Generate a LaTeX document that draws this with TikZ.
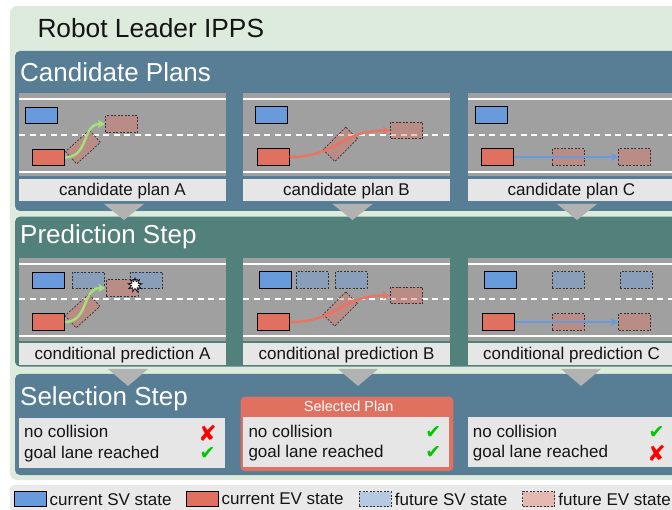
\documentclass[tikz,border=0pt]{standalone}
\usepackage{fontspec}
\setmainfont{Liberation Sans}
\newfontfamily\symfont{DejaVu Sans}
\usepackage{tikz}
\usetikzlibrary{arrows.meta}
\usetikzlibrary{positioning}
\usetikzlibrary{shapes.geometric}

\definecolor{bggreen}{RGB}{221,235,221}
\definecolor{bandblue}{RGB}{87,126,149}
\definecolor{bandteal}{RGB}{82,128,122}
\definecolor{roadgray}{RGB}{160,160,160}
\definecolor{boxgray}{RGB}{230,230,230}
\definecolor{legendgray}{RGB}{233,233,233}
\definecolor{flowgray}{RGB}{178,178,178}
\definecolor{svblue}{RGB}{104,155,220}
\definecolor{evred}{RGB}{224,112,96}
\definecolor{pathred}{RGB}{236,114,98}
\definecolor{pathgreen}{RGB}{166,224,122}
\definecolor{okgreen}{RGB}{0,200,0}
\definecolor{badred}{RGB}{255,0,0}
\definecolor{ink}{RGB}{20,20,20}

\tikzset{car/.style = {inner sep = 0, minimum width = 32, minimum height = 16.5}}
\tikzset{sv/.style = {car, draw, line width = 1, fill = svblue}}
\tikzset{ev/.style = {car, draw, line width = 1, fill = evred}}
\tikzset{futsv/.style = {car, draw = black!80, line width = 0.7, dash pattern = on 2pt off 1.5pt, fill = svblue, fill opacity = 0.4}}
\tikzset{futev/.style = {car, draw = black!80, line width = 0.7, dash pattern = on 2pt off 1.5pt, fill = evred, fill opacity = 0.4}}
\tikzset{burst/.style = {star, star points = 9, star point ratio = 2, draw, fill = white, line width = 0.7, inner sep = 0, minimum size = 14}}
\tikzset{road/.style = {fill = roadgray}}
\tikzset{lane/.style = {white, line width = 2}}
\tikzset{midlane/.style = {lane, dash pattern = on 6pt off 4.5pt}}
\tikzset{caption/.style = {fill = boxgray, text = ink, inner sep = 0, minimum width = 207, minimum height = 22, text height = 12, text depth = 0, font = \fontsize{17}{20}\selectfont}}
\tikzset{banner/.style = {anchor = base west, inner sep = 0, text = ink, font = \fontsize{26.3}{30}\selectfont}}
\tikzset{head/.style = {anchor = base west, inner sep = 0, text = white, font = \fontsize{26}{30}\selectfont}}
\tikzset{crit/.style = {anchor = base west, inner sep = 0, text = ink, font = \fontsize{17}{20}\selectfont}}
\tikzset{okmark/.style = {inner sep = 0, text = okgreen, font = \symfont\fontsize{19}{20}\selectfont}}
\tikzset{nomark/.style = {inner sep = 0, text = badred, font = \symfont\fontsize{22}{24}\selectfont}}
\tikzset{keytext/.style = {inner sep = 0, text = ink, font = \fontsize{17}{20}\selectfont}}
\tikzset{flow/.style = {fill = flowgray}}
\tikzset{greenpath/.style = {pathgreen, line width = 2.4, -{Stealth[length = 7pt, width = 7.5pt, inset = 1pt]}}}
\tikzset{redpath/.style = {pathred, line width = 2.4, -{Stealth[length = 7pt, width = 7.5pt, inset = 1pt]}}}
\tikzset{bluepath/.style = {svblue, line width = 2.4, -{Stealth[length = 7pt, width = 7.5pt, inset = 1pt]}}}

\begin{document}
\begin{tikzpicture}[x = 1pt, y = -1pt]
    \clip (0, 0) rectangle (672, 510);
    \fill [bggreen, rounded corners = 7] (10, 6) rectangle (720, 480);
    \fill [legendgray, rounded corners = 4] (10, 485) rectangle (720, 530);
    \fill [bandblue, rounded corners = 5] (15, 51) rectangle (715, 211);
    \fill [bandteal, rounded corners = 5] (15, 216.7) rectangle (715, 366.7);
    \fill [bandblue, rounded corners = 5] (15, 374) rectangle (715, 475);

    \node [banner] (ipps) at (37.3, 37.3) {Robot Leader IPPS};
    \node [head] (candhead) at (20, 81.7) {Candidate Plans};
    \node [head] (predhead) at (20, 243.3) {Prediction Step};
    \node [head] (selhead) at (20, 406) {Selection Step};

    \fill [flow] (104, 204) -- (144, 204) -- (124, 220) -- cycle;
    \fill [flow] (332.5, 204) -- (372.5, 204) -- (352.5, 220) -- cycle;
    \fill [flow] (557, 204) -- (597, 204) -- (577, 220) -- cycle;
    \fill [flow] (108, 369) -- (148, 369) -- (128, 386) -- cycle;
    \fill [flow] (338, 369) -- (378, 369) -- (358, 386) -- cycle;
    \fill [flow] (561, 369) -- (601, 369) -- (581, 386) -- cycle;

    \begin{scope}[shift={(19, 93)}]
      \fill [road] (0, 0) rectangle (207, 83);
      \draw [lane] (0, 6.3) -- (207, 6.3);
      \draw [midlane] (0, 42) -- (207, 42);
      \draw [lane] (0, 78.7) -- (207, 78.7);
      \node [caption] (ca-cap) at (103.5, 97) {candidate plan A};
      \node [sv] (ca-sv) at (22, 22.5) {};
      \node [ev] (ca-ev) at (29.5, 64.5) {};
      \node [futev, rotate = 42] (ca-mid) at (64, 54) {};
      \node [futev] (ca-end) at (102.5, 31) {};
      \draw [greenpath] (ca-ev.east) .. controls (70, 64.5) and (63, 31) .. (ca-end.west);
    \end{scope}

    \begin{scope}[shift={(243, 93)}]
      \fill [road] (0, 0) rectangle (207, 83);
      \draw [lane] (0, 6.3) -- (207, 6.3);
      \draw [midlane] (0, 42) -- (207, 42);
      \draw [lane] (0, 78.7) -- (207, 78.7);
      \node [caption] (cb-cap) at (103.5, 97) {candidate plan B};
      \node [sv] (cb-sv) at (28, 22) {};
      \node [ev] (cb-ev) at (30, 64) {};
      \node [futev, rotate = 45] (cb-mid) at (97.3, 51.3) {};
      \node [futev] (cb-end) at (163.5, 37.5) {};
      \draw [redpath] (cb-ev.east) .. controls (95, 64) and (97, 37.5) .. (cb-end.west);
    \end{scope}

    \begin{scope}[shift={(468, 93)}]
      \fill [road] (0, 0) rectangle (207, 83);
      \draw [lane] (0, 6.3) -- (207, 6.3);
      \draw [midlane] (0, 42) -- (207, 42);
      \draw [lane] (0, 78.7) -- (207, 78.7);
      \node [caption] (cc-cap) at (103.5, 97) {candidate plan C};
      \node [sv] (cc-sv) at (23.5, 22) {};
      \node [ev] (cc-ev) at (29.5, 64) {};
      \node [futev] (cc-mid) at (100, 64) {};
      \node [futev] (cc-end) at (166.5, 64) {};
      \draw [bluepath] (cc-ev) -- (cc-end);
    \end{scope}

    \begin{scope}[shift={(19, 258)}]
      \fill [road] (0, 0) rectangle (207, 83);
      \draw [lane] (0, 6) -- (207, 6);
      \draw [midlane] (0, 41.5) -- (207, 41.5);
      \draw [lane] (0, 78) -- (207, 78);
      \node [caption] (pa-cap) at (103.5, 96) {conditional prediction A};
      \node [sv] (pa-sv) at (29, 22.5) {};
      \node [futsv] (pa-sv1) at (69, 22.5) {};
      \node [futsv] (pa-sv2) at (127.3, 22.5) {};
      \node [ev] (pa-ev) at (29.3, 64) {};
      \node [futev, rotate = 42] (pa-mid) at (63.5, 53) {};
      \node [futev] (pa-end) at (103, 30) {};
      \node [burst] (pa-hit) at (116, 27) {};
      \draw [greenpath] (pa-ev.east) .. controls (70, 64) and (63, 30) .. (pa-end.west);
    \end{scope}

    \begin{scope}[shift={(243, 258)}]
      \fill [road] (0, 0) rectangle (207, 83);
      \draw [lane] (0, 6) -- (207, 6);
      \draw [midlane] (0, 41.5) -- (207, 41.5);
      \draw [lane] (0, 78) -- (207, 78);
      \node [caption] (pb-cap) at (103.5, 96) {conditional prediction B};
      \node [sv] (pb-sv) at (32.3, 22) {};
      \node [futsv] (pb-sv1) at (69.3, 22) {};
      \node [futsv] (pb-sv2) at (108, 22) {};
      \node [ev] (pb-ev) at (30.3, 64) {};
      \node [futev, rotate = 45] (pb-mid) at (97.3, 51) {};
      \node [futev] (pb-end) at (163.5, 37.5) {};
      \draw [redpath] (pb-ev.east) .. controls (95, 64) and (97, 37.5) .. (pb-end.west);
    \end{scope}

    \begin{scope}[shift={(468, 258)}]
      \fill [road] (0, 0) rectangle (207, 83);
      \draw [lane] (0, 6) -- (207, 6);
      \draw [midlane] (0, 41.5) -- (207, 41.5);
      \draw [lane] (0, 78) -- (207, 78);
      \node [caption] (pc-cap) at (103.5, 96) {conditional prediction C};
      \node [sv] (pc-sv) at (32.3, 22) {};
      \node [futsv] (pc-sv1) at (100, 22) {};
      \node [futsv] (pc-sv2) at (168.3, 22) {};
      \node [ev] (pc-ev) at (30, 64) {};
      \node [futev] (pc-mid) at (100, 64) {};
      \node [futev] (pc-end) at (166.5, 64) {};
      \draw [bluepath] (pc-ev) -- (pc-end);
    \end{scope}

    \fill [boxgray] (19, 417.7) rectangle (225, 467.7);
    \node [crit] (sa-coll) at (24, 437.7) {no collision};
    \node [crit] (sa-goal) at (24, 458) {goal lane reached};
    \node [nomark] (sa-collm) at (207.5, 433.5) {✘};
    \node [okmark] (sa-goalm) at (207.5, 453.5) {✔};

    \fill [evred, rounded corners = 4] (240.7, 396.7) rectangle (453.3, 471);
    \node [anchor = base, inner sep = 0, text = white, font = \fontsize{14.5}{16}\selectfont] (pick) at (348.7, 412) {Selected Plan};
    \fill [boxgray] (242.7, 416.7) rectangle (449, 467.3);
    \node [crit] (sb-coll) at (248.3, 437.5) {no collision};
    \node [crit] (sb-goal) at (248.3, 457.8) {goal lane reached};
    \node [okmark] (sb-collm) at (433.3, 432.7) {✔};
    \node [okmark] (sb-goalm) at (433.3, 452.5) {✔};

    \fill [boxgray] (468, 417) rectangle (720, 467.3);
    \node [crit] (sc-coll) at (472.7, 437.5) {no collision};
    \node [crit] (sc-goal) at (472.7, 457.8) {goal lane reached};
    \node [okmark] (sc-collm) at (656.7, 433) {✔};
    \node [nomark] (sc-goalm) at (656.7, 453) {✘};

    \node [sv, minimum height = 15] (key-sv) at (30, 499.2) {};
    \node [keytext, right = 3pt of key-sv] (key-svt) {current SV state};
    \node [ev, minimum height = 15] (key-ev) at (202, 499.2) {};
    \node [keytext, right = 3pt of key-ev] (key-evt) {current EV state};
    \node [futsv, minimum height = 15] (key-fsv) at (375.3, 499.2) {};
    \node [keytext, right = 3pt of key-fsv] (key-fsvt) {future SV state};
    \node [futev, minimum height = 15] (key-fev) at (538.8, 499.2) {};
    \node [keytext, right = 3pt of key-fev] (key-fevt) {future EV state};
  \end{tikzpicture}
\end{document}
